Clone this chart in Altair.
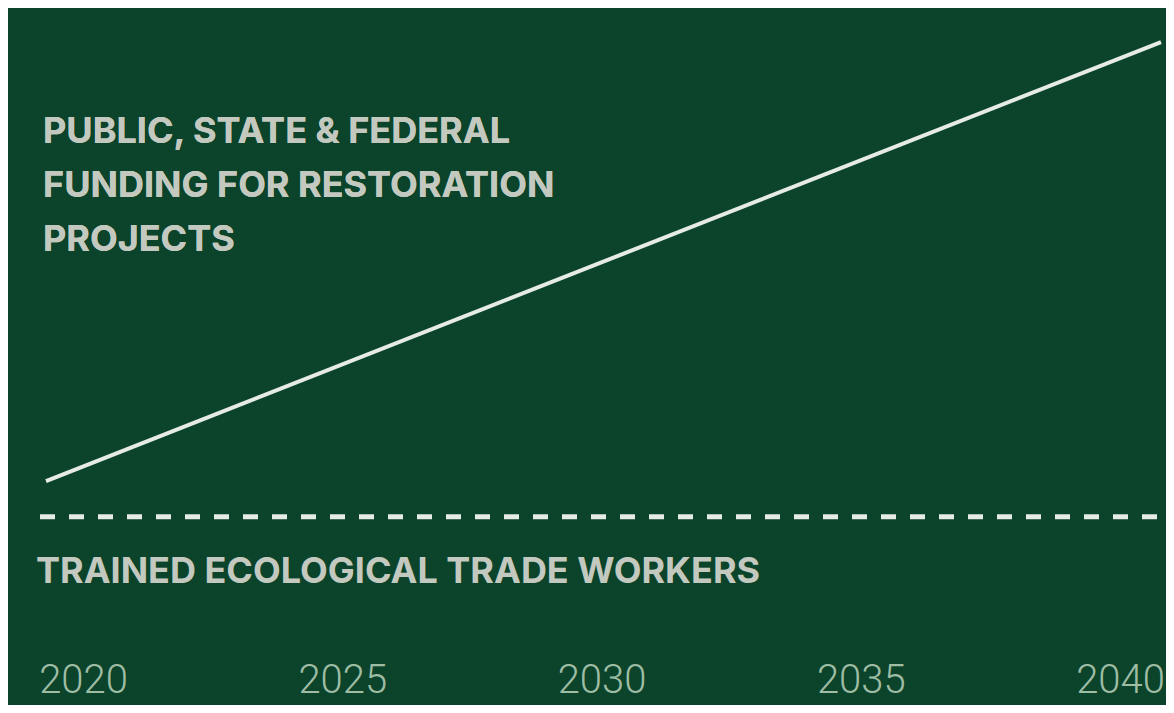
import altair as alt
import pandas as pd

# ---- data ----
YEARS = [2020, 2025, 2030, 2035, 2040]
FUNDING_YEARS = [2020, 2040]
FUNDING = [20, 100]
WORKERS_START = [2020]
WORKERS_END = [2040]
WORKERS = [13.5]
FUNDING_LABEL = ["PUBLIC, STATE & FEDERAL", "FUNDING FOR RESTORATION", "PROJECTS"]
WORKERS_LABEL = "TRAINED ECOLOGICAL TRADE WORKERS"

# ---- style ----
BG = "#0b442a"
LINE = "#e6ebe6"
TEXT = "#c4c9c0"
AXIS_TEXT = "#9fbca5"
LABEL_FONT = "Inter"
AXIS_FONT = "Roboto"
W, H = 1158, 697

y_scale = alt.Scale(domain=[-20.8, 106.2], range=[H, 0], nice=False, zero=False)
line_x = alt.Scale(domain=[2020, 2040], range=[38, 1153])
dash_x = alt.Scale(domain=[2020, 2040], range=[32, 1166])
year_x = alt.Scale(domain=[2020, 2040], range=[75, 1112])

funding_df = pd.DataFrame({"year": FUNDING_YEARS, "value": FUNDING})
workers_df = pd.DataFrame({"start": WORKERS_START, "end": WORKERS_END, "value": WORKERS})
years_df = pd.DataFrame({"year": YEARS})

line = alt.Chart(funding_df).mark_line(color=LINE, strokeWidth=4, strokeCap="butt").encode(
    x=alt.X("year:Q", scale=line_x, axis=None),
    y=alt.Y("value:Q", scale=y_scale, axis=None),
)

dashed = alt.Chart(workers_df).mark_rule(color=LINE, strokeWidth=5, strokeDash=[15, 14]).encode(
    x=alt.X("start:Q", scale=dash_x, axis=None),
    x2="end:Q",
    y=alt.Y("value:Q", scale=y_scale, axis=None),
)

year_axis = alt.Chart(years_df).mark_point(opacity=0).encode(
    x=alt.X(
        "year:Q",
        scale=year_x,
        axis=alt.Axis(
            orient="bottom", values=YEARS, format="d", title=None, domain=False,
            ticks=False, tickSize=0, grid=False, labelFont=AXIS_FONT, labelFontSize=40,
            labelFontWeight=300, labelColor=AXIS_TEXT, labelPadding=-5,
            labelBaseline="bottom", labelFlush=False, labelOverlap=False,
        ),
    ),
)

funding_text = alt.Chart(funding_df).mark_text(
    text=FUNDING_LABEL, align="left", baseline="alphabetic", lineHeight=54,
    font=LABEL_FONT, fontSize=36, fontWeight="bold", color=TEXT, dx=-3,
).encode(
    x=alt.XDatum(2020, scale=line_x, axis=None),
    y=alt.YDatum(81.6, scale=y_scale, axis=None),
)

workers_text = alt.Chart(workers_df).mark_text(
    text=WORKERS_LABEL, align="left", baseline="alphabetic",
    font=LABEL_FONT, fontSize=36, fontWeight="bold", color=TEXT, dx=-10, dy=66,
).encode(
    x=alt.XDatum(2020, scale=line_x, axis=None),
    y=alt.YDatum(WORKERS[0], scale=y_scale, axis=None),
)

chart = (
    alt.layer(dashed, line, funding_text, workers_text, year_axis)
    .resolve_scale(x="independent")
    .properties(width=W, height=H, background=BG, padding=0,
                autosize=alt.AutoSizeParams(type="none"))
    .configure_view(stroke=None)
)

chart.save("out.html", embed_options={"renderer": "svg", "actions": False})
